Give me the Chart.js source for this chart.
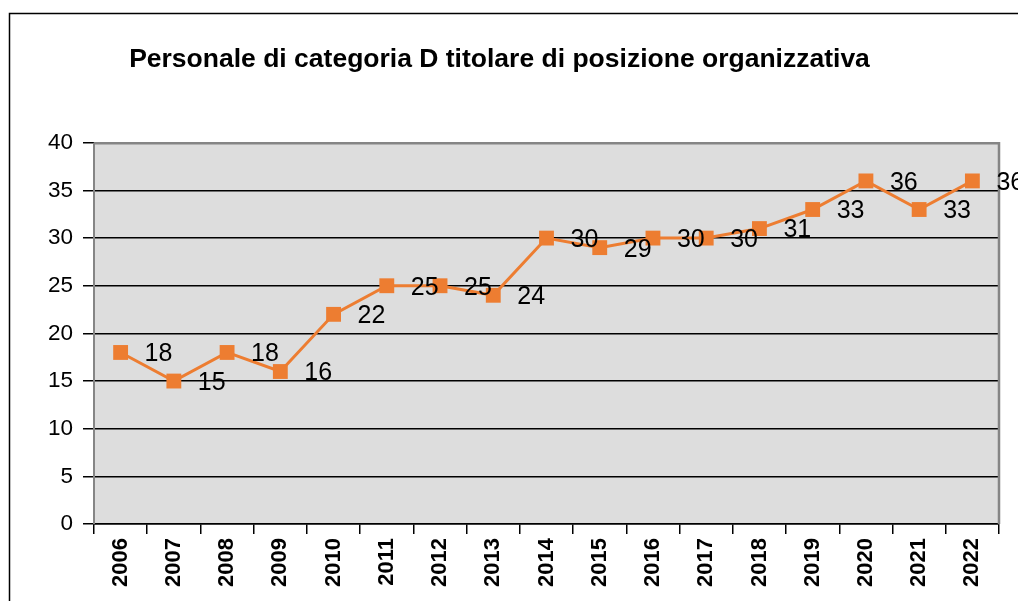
<!DOCTYPE html>
<html>
<head>
<meta charset="utf-8">
<script src="https://cdn.jsdelivr.net/npm/chart.js@4/dist/chart.umd.min.js"></script>
<style>
html,body{margin:0;padding:0;background:#fff;}
#wrap{width:1018px;height:601px;position:relative;}
</style>
</head>
<body>
<div id="wrap"><canvas id="c" width="1018" height="601"></canvas></div>
<script>
const titleText = "Personale di categoria D titolare di posizione organizzativa";
const years = ["2006","2007","2008","2009","2010","2011","2012","2013","2014","2015","2016","2017","2018","2019","2020","2021","2022"];
const values = [18,15,18,16,22,25,25,24,30,29,30,30,31,33,36,33,36];
const yMin = 0, yMax = 40, yStep = 5;

const FONT = "'Liberation Sans', Arial, sans-serif";
const ORANGE = "#ED7D31";

const framePlugin = {
  id: 'frame',
  beforeDraw(chart) {
    const ctx = chart.ctx, a = chart.chartArea;
    ctx.save();
    ctx.fillStyle = '#fff';
    ctx.fillRect(0, 0, chart.width, chart.height);
    ctx.fillStyle = '#DDDDDD';
    ctx.fillRect(a.left, a.top, a.right - a.left, a.bottom - a.top);
    ctx.strokeStyle = '#000';
    ctx.lineWidth = 1.5;
    ctx.beginPath();
    ctx.moveTo(9.5, 601); ctx.lineTo(9.5, 13.5); ctx.lineTo(1018, 13.5);
    ctx.stroke();
    ctx.restore();
  },
  afterDatasetsDraw(chart) {
    const ctx = chart.ctx, a = chart.chartArea;
    ctx.save();
    ctx.strokeStyle = '#858585';
    ctx.lineWidth = 2.5;
    ctx.beginPath();
    ctx.moveTo(a.left, a.top + 0.5); ctx.lineTo(a.right, a.top + 0.5); ctx.lineTo(a.right, a.bottom);
    ctx.stroke();
    ctx.lineWidth = 2;
    ctx.beginPath();
    ctx.moveTo(a.left, a.top); ctx.lineTo(a.left, a.bottom);
    ctx.stroke();
    // data labels
    const meta = chart.getDatasetMeta(0);
    ctx.fillStyle = '#000';
    ctx.font = "25px " + FONT;
    ctx.textAlign = 'left';
    ctx.textBaseline = 'middle';
    meta.data.forEach((pt, i) => {
      ctx.fillText(String(values[i]), pt.x + 24, pt.y + 2);
    });
    ctx.restore();
  }
};

new Chart(document.getElementById('c'), {
  type: 'line',
  data: {
    labels: years,
    datasets: [{
      data: values,
      borderColor: ORANGE,
      backgroundColor: ORANGE,
      borderWidth: 3,
      pointStyle: 'rect',
      pointRadius: 10.5,
      pointHoverRadius: 10.5,
      pointBorderWidth: 0,
      tension: 0,
      clip: false
    }]
  },
  options: {
    responsive: false,
    animation: false,
    events: [],
    layout: { padding: { left: 0, right: 19, top: 0, bottom: 0 } },
    plugins: {
      legend: { display: false },
      tooltip: { enabled: false },
      title: {
        display: true,
        text: titleText,
        color: '#000',
        font: { family: FONT, size: 26.5, weight: 'bold' },
        padding: { top: 44, bottom: 67 }
      }
    },
    scales: {
      x: {
        offset: true,
        grid: { offset: true, drawOnChartArea: false, drawTicks: true, tickLength: 10, color: '#000', lineWidth: 1.5 },
        border: { display: true, color: '#000', width: 1.5 },
        ticks: { color: '#000', font: { family: FONT, size: 22, weight: 'bold' }, minRotation: 90, maxRotation: 90, padding: 4, autoSkip: false },
        afterFit(s) { s.height = 77; }
      },
      y: {
        min: yMin, max: yMax,
        ticks: { stepSize: yStep, color: '#000', font: { family: FONT, size: 22.5 }, padding: 10 },
        grid: {
          color: (c) => (c.tick && c.tick.value === yMax) ? 'rgba(0,0,0,0)' : '#000',
          tickColor: '#000',
          lineWidth: 1.5,
          tickLength: 11,
          drawTicks: true
        },
        border: { display: false },
        afterFit(s) { s.width = 94; }
      }
    }
  },
  plugins: [framePlugin]
});
</script>
</body>
</html>
